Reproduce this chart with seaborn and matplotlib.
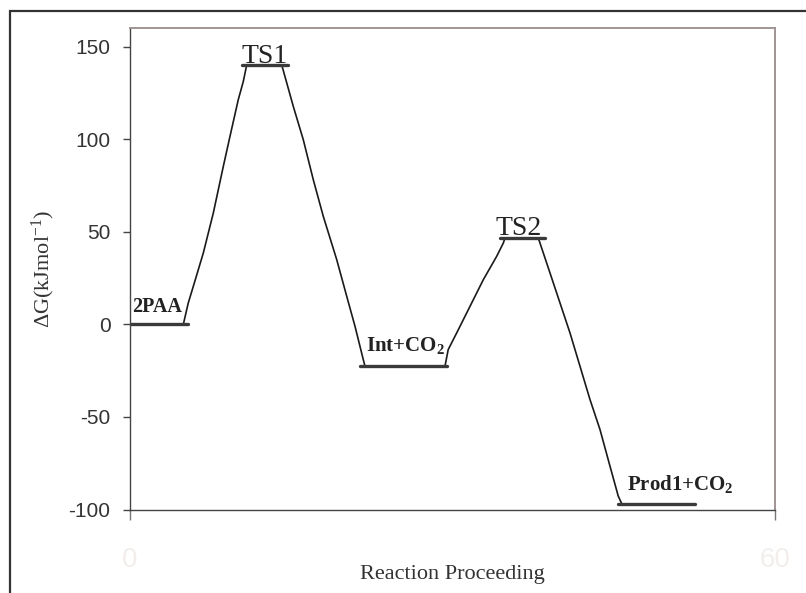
import numpy as np
import pandas as pd
import matplotlib
matplotlib.use("Agg")
import matplotlib.pyplot as plt
import seaborn as sns
from matplotlib.patches import Rectangle

# flat energy levels (kJ/mol) and their extent along the reaction axis
level_names = ['2PAA', 'TS1', 'Int+CO2', 'TS2', 'Prod1+CO2']
level_G = [0, 140.3, -22.6, 46.7, -96.8]
level_x0 = [0, 10.4, 21.4, 34.4, 45.4]
level_x1 = [5.4, 14.7, 29.5, 38.6, 52.6]

# hand drawn connecting lines
path1_x = [4.96, 5.42, 5.89, 6.82, 7.75, 8.68, 9.30, 10.07, 10.54, 10.86]
path1_y = [0, 11.6, 20.6, 38.6, 60.2, 85.4, 101.6, 121.4, 131.3, 140.3]
path2_x = [14.11, 15.19, 16.12, 17.05, 17.98, 19.23, 20.16, 20.93, 21.70, 21.86]
path2_y = [140.3, 117.8, 99.8, 78.2, 58.4, 35.0, 15.2, -1.0, -19.0, -22.6]
path3_x = [29.3, 29.6, 30.39, 31.63, 32.87, 34.11, 34.73, 34.88]
path3_y = [-22.6, -13.6, -4.6, 9.8, 24.2, 36.8, 44.0, 46.7]
path4_x = [37.98, 39.07, 40.0, 40.93, 41.86, 42.79, 43.72, 44.65, 45.42, 45.74]
path4_y = [46.7, 27.8, 11.6, -4.6, -22.6, -40.6, -56.8, -76.6, -92.8, -96.8]

x_ticks = [0, 60]
y_ticks = [-100, -50, 0, 50, 100, 150]

sns.set_style("ticks")
plt.rcParams['mathtext.fontset'] = 'custom'
plt.rcParams['mathtext.rm'] = 'Liberation Serif'
plt.rcParams['mathtext.bf'] = 'Liberation Serif:bold'
plt.rcParams['mathtext.it'] = 'Liberation Serif:italic'

fig = plt.figure(figsize=(8.06, 5.93), dpi=100)
ax = fig.add_axes([130/806, 1 - 509.5/593, 645/806, (509.5 - 28.3)/593])

# connectors
for px, py in [(path1_x, path1_y), (path2_x, path2_y), (path3_x, path3_y), (path4_x, path4_y)]:
    sns.lineplot(x=px, y=py, ax=ax, sort=False, estimator=None, color='#1a1a1a', lw=1.2)

# levels
levels = pd.DataFrame({'name': level_names, 'G': level_G, 'x0': level_x0, 'x1': level_x1})
for _, r in levels.iterrows():
    sns.lineplot(x=[r.x0, r.x1], y=[r.G, r.G], ax=ax, color='#3a3a3a', lw=2.4, estimator=None)

serif = 'Liberation Serif'
ax.text(2.5, 6.5, '2PAA', family=serif, fontweight='bold', fontsize=14.5,
        ha='center', va='baseline', color='#222222')
ax.text(25.66, -14.4, r'Int+CO$_\mathbf{2}$', family=serif, fontweight='bold', fontsize=15,
        ha='center', va='baseline', color='#222222')
ax.text(51.2, -89.6, r'Prod1+CO$_\mathbf{2}$', family=serif, fontweight='bold', fontsize=15,
        ha='center', va='baseline', color='#222222')
ax.text(12.56, 141.4, 'TS1', family=serif, fontsize=20, ha='center', va='baseline', color='#222222')
ax.text(36.19, 48.1, 'TS2', family=serif, fontsize=20, ha='center', va='baseline', color='#222222')

ax.set_xlim(0, 60)
ax.set_ylim(-100, 160)
ax.set_xticks(x_ticks)
ax.set_yticks(y_ticks)
ax.set_xticklabels([str(t) for t in x_ticks], fontsize=20, color='#f2eeec', family='Liberation Sans')
ax.set_yticklabels([str(t) for t in y_ticks], fontsize=15, color='#333333', family='Liberation Sans')
ax.tick_params(axis='x', direction='out', length=7, width=1, color='#777777', pad=20)
ax.tick_params(axis='y', direction='out', length=5, width=1, color='#444444', pad=9)

for s in ['left', 'bottom']:
    ax.spines[s].set_color('#444444')
    ax.spines[s].set_linewidth(1.0)
for s in ['top', 'right']:
    ax.spines[s].set_color('#a09494')
    ax.spines[s].set_linewidth(1.4)

ax.set_xlabel('Reaction Proceeding', family=serif, fontsize=16, color='#333333', va='center')
ax.xaxis.set_label_coords(0.5, (509.5 - 575) / 481.2)
ax.set_ylabel(r'ΔG(kJmol$^{\mathrm{-1}}$)', family=serif, fontsize=16, color='#333333',
              ha='center', va='center')
ax.yaxis.set_label_coords((43 - 130) / 645, 0.5)

# outer frame, running off the right and bottom of the image
fig.add_artist(Rectangle((10/806, -0.2), 1.5, 1.2 - 11/593, transform=fig.transFigure,
                         fill=False, lw=1.6, ec='#333333', clip_on=False))

fig.savefig('out.png', dpi=100)
